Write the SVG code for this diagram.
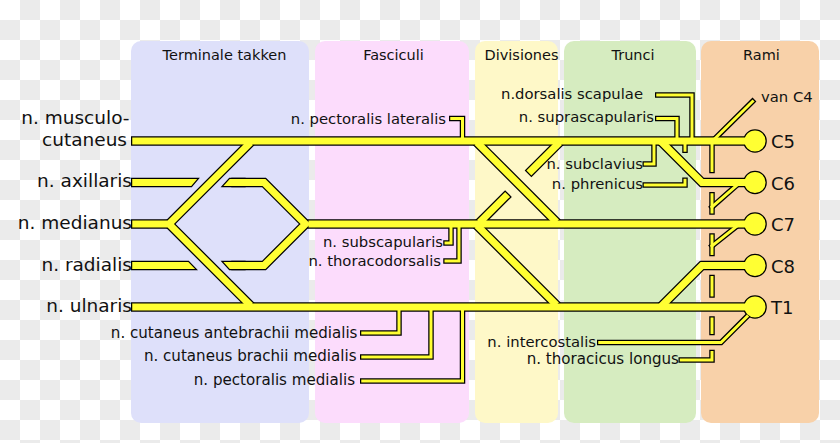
<svg xmlns="http://www.w3.org/2000/svg" width="840" height="443" viewBox="0 0 840 443">
<defs>
<pattern id="checker" width="40" height="40" patternUnits="userSpaceOnUse">
<rect width="40" height="40" fill="#ffffff"/>
<rect x="20" y="0" width="20" height="20" fill="#ebebeb"/>
<rect x="0" y="20" width="20" height="20" fill="#ebebeb"/>
</pattern>
</defs>
<style>
.hdr{font-family:"DejaVu Sans",sans-serif;font-size:14.5px;fill:#111;text-anchor:middle}
.big{font-family:"DejaVu Sans",sans-serif;font-size:18.5px;fill:#111;text-anchor:end}
.lbl{font-family:"DejaVu Sans",sans-serif;font-size:14.8px;fill:#111;text-anchor:end}
.lbl2{font-family:"DejaVu Sans",sans-serif;font-size:15.1px;fill:#111;text-anchor:end}
.root{font-family:"DejaVu Sans",sans-serif;font-size:18px;fill:#111}
.bk{fill:none;stroke:#000;stroke-width:9.5;stroke-linecap:square;stroke-linejoin:miter}
.ye{fill:none;stroke:#ffff33;stroke-width:7;stroke-linecap:square;stroke-linejoin:miter}
.tbk{fill:none;stroke:#000;stroke-width:5.5;stroke-linecap:square;stroke-linejoin:miter}
.tye{fill:none;stroke:#ffff33;stroke-width:3;stroke-linecap:square;stroke-linejoin:miter}
.tip{fill:#ffff33;stroke:#000;stroke-width:1.25;stroke-linejoin:miter}
.ball{fill:#ffff33;stroke:#000;stroke-width:1.25}
</style>
<rect width="840" height="443" fill="url(#checker)"/>
<g id="columns">
<g id="col-terminale"><rect x="131" y="41" width="178" height="382" rx="10" fill="#dee0fa"/><text class="hdr" x="224.5" y="60">Terminale takken</text></g>
<g id="col-fasciculi"><rect x="315" y="41" width="154" height="382" rx="10" fill="#fcdcfc"/><text class="hdr" x="393.5" y="60">Fasciculi</text></g>
<g id="col-divisiones"><rect x="475" y="41" width="83" height="382" rx="10" fill="#fef8c8"/><text class="hdr" x="521.5" y="60">Divisiones</text></g>
<g id="col-trunci"><rect x="564" y="41" width="132" height="382" rx="10" fill="#d6ecc0"/><text class="hdr" x="633" y="60">Trunci</text></g>
<g id="col-rami"><rect x="701" y="41" width="118" height="382" rx="10" fill="#f8d1a9"/><text class="hdr" x="761.5" y="60">Rami</text></g>
</g>
<g id="connectors">
<g id="outline-main">
<path class="bk" d="M135.75 141 H750"/>
<path class="bk" d="M135.75 224 H164"/>
<path class="bk" d="M248 303 L169 224 L248 145"/>
<path class="bk" d="M236 182.5 H264 L305.5 224 L264 265.5 H236"/>
<path class="bk" d="M312 224 H750"/>
<path class="bk" d="M135.75 307 H750"/>
<path class="bk" d="M479.5 145 L554 219.5"/>
<path class="bk" d="M557 145 L531.4 170.6"/>
<path class="bk" d="M505.1 196.9 L482 220"/>
<path class="bk" d="M479.5 228 L554 302.5"/>
<path class="bk" d="M750 182.5 H702 L663.5 144"/>
<path class="bk" d="M750 265.5 H702 L664 303.5"/>
</g>
<g id="outline-thin">
<path class="tbk" d="M451.75 118.5 H462.5 V140"/>
<path class="tbk" d="M446 243 H451 V227"/>
<path class="tbk" d="M446 261 H459 V227"/>
<path class="tbk" d="M362.75 333 H399 V309"/>
<path class="tbk" d="M362.75 357 H431 V309"/>
<path class="tbk" d="M362.75 381 H462.5 V309"/>
<path class="tbk" d="M657.75 95 H692 V139"/>
<path class="tbk" d="M657.75 118.5 H677 V139"/>
<path class="tbk" d="M645.25 164 H654 V143"/>
<path class="tbk" d="M645.25 185 H685 V180.25"/>
<path class="tbk" d="M685 143 V150.25"/>
<path class="tbk" d="M752.5 101.5 L714 139.5"/>
<path class="tbk" d="M712 143 V170.5"/>
<path class="tbk" d="M712 194.75 V212"/>
<path class="tbk" d="M712 207 L737 185"/>
<path class="tbk" d="M712 236 V253.5"/>
<path class="tbk" d="M712 246 L737 226"/>
<path class="tbk" d="M712 277.5 V295"/>
<path class="tbk" d="M712 319 V332.5"/>
<path class="tbk" d="M712 352.5 V360 H681.25"/>
<path class="tbk" d="M599.75 342.5 H721 L747 316.5"/>
</g>
<g id="cut-ends">
<polygon class="tip" points="131.6,178.4 198.5,178.4 191.5,186.6 131.6,186.6"/>
<polygon class="tip" points="131.6,261.4 188.5,261.4 196.5,269.6 131.6,269.6"/>
<polygon class="tip" points="229.5,178.4 245,178.4 245,186.6 222,186.6"/>
<polygon class="tip" points="222,261.4 245,261.4 245,269.6 229.5,269.6"/>
</g>
</g>
<g id="roots">
<g id="root-C5"><circle class="ball" cx="755" cy="141" r="11.2"/><text class="root" x="771" y="148">C5</text></g>
<g id="root-C6"><circle class="ball" cx="755" cy="182.5" r="11.2"/><text class="root" x="771" y="189.5">C6</text></g>
<g id="root-C7"><circle class="ball" cx="755" cy="224" r="11.2"/><text class="root" x="771" y="231">C7</text></g>
<g id="root-C8"><circle class="ball" cx="755" cy="265.5" r="11.2"/><text class="root" x="771" y="272.5">C8</text></g>
<g id="root-T1"><circle class="ball" cx="755" cy="307" r="11.2"/><text class="root" x="771" y="314">T1</text></g>
</g>
<g id="connectors-fill">
<g id="fill-thin">
<path class="tye" d="M451.75 118.5 H462.5 V140"/>
<path class="tye" d="M446 243 H451 V227"/>
<path class="tye" d="M446 261 H459 V227"/>
<path class="tye" d="M362.75 333 H399 V309"/>
<path class="tye" d="M362.75 357 H431 V309"/>
<path class="tye" d="M362.75 381 H462.5 V309"/>
<path class="tye" d="M657.75 95 H692 V139"/>
<path class="tye" d="M657.75 118.5 H677 V139"/>
<path class="tye" d="M645.25 164 H654 V143"/>
<path class="tye" d="M645.25 185 H685 V180.25"/>
<path class="tye" d="M685 143 V150.25"/>
<path class="tye" d="M752.5 101.5 L714 139.5"/>
<path class="tye" d="M712 143 V170.5"/>
<path class="tye" d="M712 194.75 V212"/>
<path class="tye" d="M712 207 L737 185"/>
<path class="tye" d="M712 236 V253.5"/>
<path class="tye" d="M712 246 L737 226"/>
<path class="tye" d="M712 277.5 V295"/>
<path class="tye" d="M712 319 V332.5"/>
<path class="tye" d="M712 352.5 V360 H681.25"/>
<path class="tye" d="M599.75 342.5 H721 L747 316.5"/>
</g>
<g id="fill-main">
<path class="ye" d="M135.75 141 H750"/>
<path class="ye" d="M135.75 224 H164"/>
<path class="ye" d="M248 303 L169 224 L248 145"/>
<path class="ye" d="M236 182.5 H264 L305.5 224 L264 265.5 H236"/>
<path class="ye" d="M312 224 H750"/>
<path class="ye" d="M135.75 307 H750"/>
<path class="ye" d="M479.5 145 L554 219.5"/>
<path class="ye" d="M557 145 L531.4 170.6"/>
<path class="ye" d="M505.1 196.9 L482 220"/>
<path class="ye" d="M479.5 228 L554 302.5"/>
<path class="ye" d="M750 182.5 H702 L663.5 144"/>
<path class="ye" d="M750 265.5 H702 L664 303.5"/>
</g>
</g>
<g id="labels">
<text class="big" x="129.5" y="123.5">n. musculo-</text>
<text class="big" x="127" y="145.5">cutaneus</text>
<text class="big" x="132" y="187">n. axillaris</text>
<text class="big" x="132" y="228.5">n. medianus</text>
<text class="big" x="132" y="270.5">n. radialis</text>
<text class="big" x="132" y="312">n. ulnaris</text>
<text class="lbl" x="446" y="123.5">n. pectoralis lateralis</text>
<text class="lbl" x="643" y="98.5">n.dorsalis scapulae</text>
<text class="lbl" x="654" y="122">n. suprascapularis</text>
<text class="lbl" x="643" y="168.5">n. subclavius</text>
<text class="lbl" x="643" y="188.5">n. phrenicus</text>
<text class="lbl" x="443" y="247">n. subscapularis</text>
<text class="lbl" x="441" y="265.5">n. thoracodorsalis</text>
<text class="lbl2" x="357.5" y="337.5">n. cutaneus antebrachii medialis</text>
<text class="lbl2" x="356.5" y="361">n. cutaneus brachii medialis</text>
<text class="lbl2" x="355" y="385">n. pectoralis medialis</text>
<text class="lbl" x="596" y="347">n. intercostalis</text>
<text class="lbl2" x="679" y="363.5">n. thoracicus longus</text>
<text class="lbl" x="761" y="102" style="text-anchor:start">van C4</text>
</g>
</svg>
